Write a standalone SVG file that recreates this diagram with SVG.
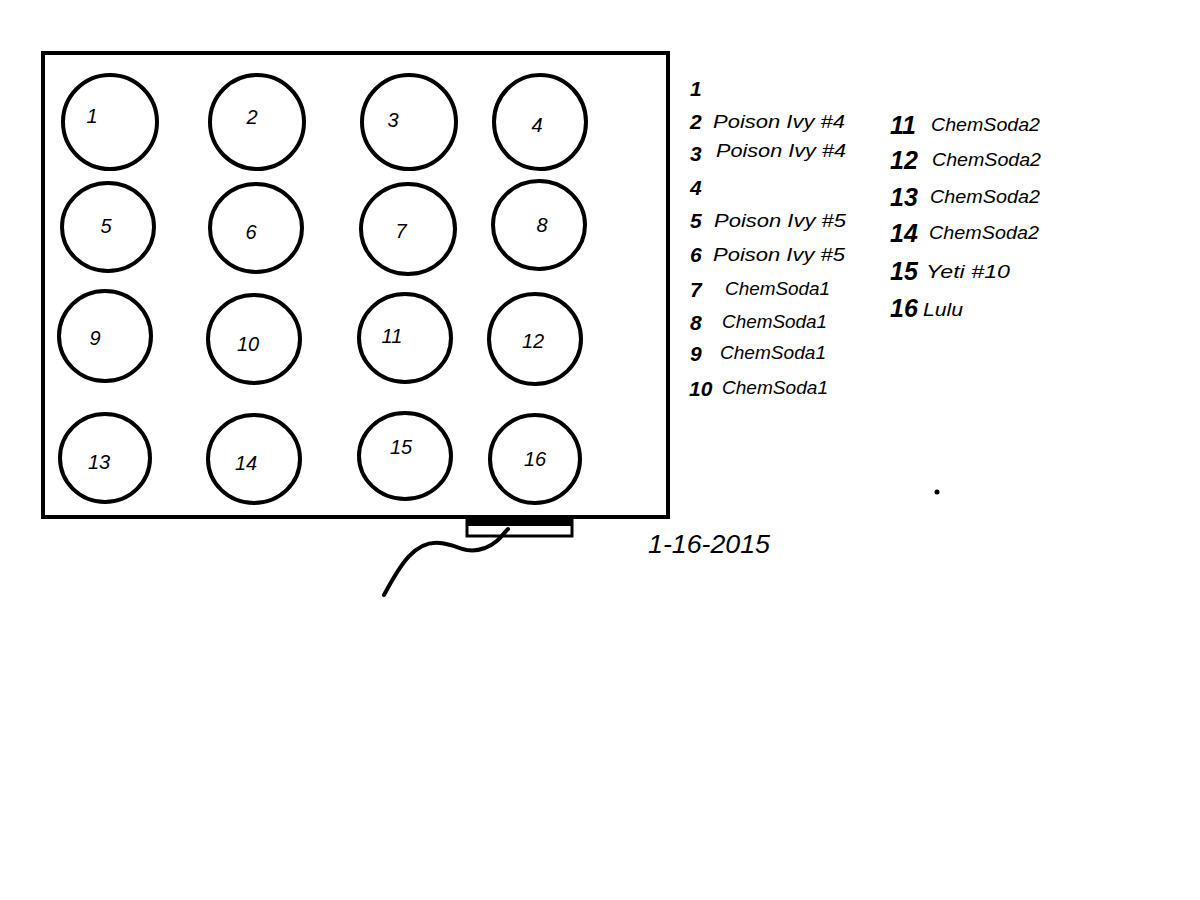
<svg xmlns="http://www.w3.org/2000/svg" width="1200" height="900" viewBox="0 0 1200 900">
<style>
.pot{fill:#fff;stroke:#000;stroke-width:4}
.num{font-family:"Liberation Sans",Arial,sans-serif;font-style:italic;font-size:20px;fill:#000;text-anchor:middle}
.ln{font-family:"Liberation Sans",Arial,sans-serif;font-style:italic;font-weight:bold;font-size:21px;fill:#000}
.ln2{font-family:"Liberation Sans",Arial,sans-serif;font-style:italic;font-weight:bold;font-size:25px;fill:#000}
.lt{font-family:"Liberation Sans",Arial,sans-serif;font-style:italic;font-size:19px;fill:#000}
</style>
<rect width="1200" height="900" fill="#fff"/>
<g id="tent">
<rect x="43" y="53" width="625" height="464" fill="#fff" stroke="#000" stroke-width="4"/>
</g>
<g id="fan">
<rect x="467" y="518" width="105" height="18" fill="#fff" stroke="#000" stroke-width="3"/>
<rect x="466" y="516" width="107" height="10" fill="#000"/>
</g>
<g id="connectors">
<path d="M384,595 C400,565 415,540 440,543 C460,545 465,555 485,548 C498,543 502,535 508,529" fill="none" stroke="#000" stroke-width="4" stroke-linecap="round"/>
</g>
<g id="p1"><ellipse class="pot" cx="110" cy="122" rx="47" ry="47"/><text class="num" x="92" y="123">1</text></g>
<g id="p2"><ellipse class="pot" cx="257" cy="122" rx="47" ry="47"/><text class="num" x="252" y="124">2</text></g>
<g id="p3"><ellipse class="pot" cx="409" cy="122" rx="47" ry="47"/><text class="num" x="393" y="127">3</text></g>
<g id="p4"><ellipse class="pot" cx="540" cy="122" rx="46" ry="47"/><text class="num" x="537" y="132">4</text></g>
<g id="p5"><ellipse class="pot" cx="108" cy="227" rx="46" ry="44"/><text class="num" x="106" y="233">5</text></g>
<g id="p6"><ellipse class="pot" cx="256" cy="228" rx="46" ry="44"/><text class="num" x="251" y="239">6</text></g>
<g id="p7"><ellipse class="pot" cx="408" cy="229" rx="47" ry="45"/><text class="num" x="401" y="238">7</text></g>
<g id="p8"><ellipse class="pot" cx="539" cy="225" rx="46" ry="44"/><text class="num" x="542" y="232">8</text></g>
<g id="p9"><ellipse class="pot" cx="105" cy="336" rx="46" ry="45"/><text class="num" x="95" y="345">9</text></g>
<g id="p10"><ellipse class="pot" cx="254" cy="339" rx="46" ry="44"/><text class="num" x="248" y="351">10</text></g>
<g id="p11"><ellipse class="pot" cx="405" cy="338" rx="46" ry="44"/><text class="num" x="392" y="343">11</text></g>
<g id="p12"><ellipse class="pot" cx="535" cy="339" rx="46" ry="45"/><text class="num" x="533" y="348">12</text></g>
<g id="p13"><ellipse class="pot" cx="105" cy="458" rx="45" ry="44"/><text class="num" x="99" y="469">13</text></g>
<g id="p14"><ellipse class="pot" cx="254" cy="459" rx="46" ry="44"/><text class="num" x="246" y="470">14</text></g>
<g id="p15"><ellipse class="pot" cx="405" cy="456" rx="46" ry="43"/><text class="num" x="401" y="454">15</text></g>
<g id="p16"><ellipse class="pot" cx="535" cy="459" rx="45" ry="44"/><text class="num" x="535" y="466">16</text></g>
<g id="legend1">
<text class="ln" x="690" y="96">1</text>
<text class="ln" x="690" y="129">2</text><text class="lt" x="713" y="128" textLength="132" lengthAdjust="spacingAndGlyphs">Poison Ivy #4</text>
<text class="ln" x="690" y="161">3</text><text class="lt" x="716" y="157" textLength="130" lengthAdjust="spacingAndGlyphs">Poison Ivy #4</text>
<text class="ln" x="690" y="195">4</text>
<text class="ln" x="690" y="228">5</text><text class="lt" x="714" y="227" textLength="132" lengthAdjust="spacingAndGlyphs">Poison Ivy #5</text>
<text class="ln" x="690" y="262">6</text><text class="lt" x="713" y="261" textLength="132" lengthAdjust="spacingAndGlyphs">Poison Ivy #5</text>
<text class="ln" x="690" y="297">7</text><text class="lt" x="725" y="295" textLength="105" lengthAdjust="spacingAndGlyphs">ChemSoda1</text>
<text class="ln" x="690" y="330">8</text><text class="lt" x="722" y="328" textLength="105" lengthAdjust="spacingAndGlyphs">ChemSoda1</text>
<text class="ln" x="690" y="361">9</text><text class="lt" x="720" y="359" textLength="106" lengthAdjust="spacingAndGlyphs">ChemSoda1</text>
<text class="ln" x="689" y="396">10</text><text class="lt" x="722" y="394" textLength="106" lengthAdjust="spacingAndGlyphs">ChemSoda1</text>
</g>
<g id="legend2">
<text class="ln2" x="890" y="134">11</text><text class="lt" x="931" y="131" textLength="109" lengthAdjust="spacingAndGlyphs">ChemSoda2</text>
<text class="ln2" x="890" y="169">12</text><text class="lt" x="932" y="166" textLength="109" lengthAdjust="spacingAndGlyphs">ChemSoda2</text>
<text class="ln2" x="890" y="206">13</text><text class="lt" x="930" y="203" textLength="110" lengthAdjust="spacingAndGlyphs">ChemSoda2</text>
<text class="ln2" x="890" y="242">14</text><text class="lt" x="929" y="239" textLength="110" lengthAdjust="spacingAndGlyphs">ChemSoda2</text>
<text class="ln2" x="890" y="280">15</text><text class="lt" x="926" y="278" textLength="84" lengthAdjust="spacingAndGlyphs">Yeti #10</text>
<text class="ln2" x="890" y="317">16</text><text class="lt" x="923" y="316" textLength="40" lengthAdjust="spacingAndGlyphs">Lulu</text>
</g>
<g id="date">
<text class="lt" x="648" y="553" font-size="25" style="font-size:25px" textLength="122" lengthAdjust="spacingAndGlyphs">1-16-2015</text>
</g>
<circle cx="937" cy="492" r="2.5" fill="#000"/>
</svg>
